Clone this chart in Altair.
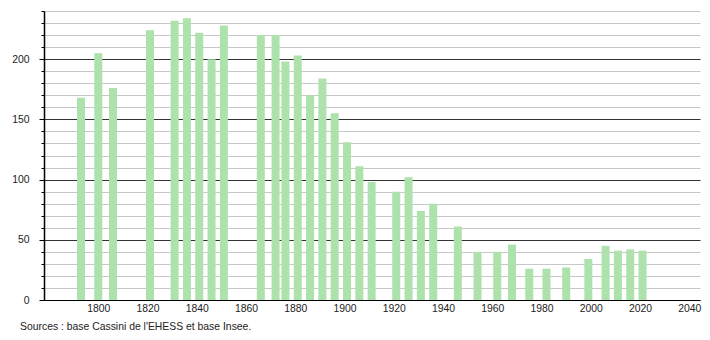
import altair as alt
import pandas as pd

years = [1793, 1800, 1806, 1821, 1831, 1836, 1841, 1846, 1851,
         1866, 1872, 1876, 1881, 1886, 1891, 1896, 1901, 1906, 1911,
         1921, 1926, 1931, 1936, 1946, 1954, 1962, 1968, 1975, 1982,
         1990, 1999, 2006, 2011, 2016, 2021]
population = [168, 205, 176, 224, 232, 234, 222, 200, 228,
              220, 220, 198, 203, 170, 184, 155, 131, 111, 98,
              90, 102, 74, 80, 61, 40, 40, 46, 26, 26,
              27, 34, 45, 41, 42, 41]
x_ticks = list(range(1800, 2041, 20))
y_ticks = list(range(0, 241, 10))
source_text = "Sources : base Cassini de l'EHESS et base Insee."

df = pd.DataFrame({"year": years, "pop": population})

font = "Liberation Sans"
fs = 10.4

chart = alt.Chart(df).mark_bar(size=8, color="#ade2ad").encode(
    x=alt.X("year:Q",
            scale=alt.Scale(domain=[1780, 2042.3], nice=False, zero=False),
            axis=alt.Axis(values=x_ticks, format="d", title=None, grid=False,
                          ticks=False, domainColor="#000000", domainWidth=1,
                          labelFlush=False,
                          labelPadding=3, labelFontSize=fs, labelColor="#222222",
                          labelFont=font)),
    y=alt.Y("pop:Q",
            scale=alt.Scale(domain=[0, 240], nice=False),
            axis=alt.Axis(values=y_ticks, title=None,
                          labelExpr="datum.value % 50 === 0 ? datum.label : ''",
                          grid=True,
                          gridColor={"condition": {"test": "datum.value % 50 === 0", "value": "#333333"}, "value": "#c8c8c8"},
                          gridWidth=1,
                          tickColor="#000000",
                          tickSize={"condition": {"test": "datum.value % 50 === 0", "value": 5}, "value": 3},
                          domainColor="#000000", domainWidth=1.5,
                          labelPadding=10, labelFontSize=fs, labelColor="#222222",
                          labelFont=font)),
).properties(
    width=656,
    height=289,
    autosize="none",
    padding={"left": 44, "top": 11, "right": 10, "bottom": 40},
    title=alt.TitleParams(source_text, orient="bottom", anchor="start", frame="group",
                          dx=-24, offset=9, fontSize=fs, fontWeight="normal",
                          font=font, color="#222222"),
).configure_view(stroke=None)

chart.save("out.html", embed_options={"renderer": "svg", "actions": False})
